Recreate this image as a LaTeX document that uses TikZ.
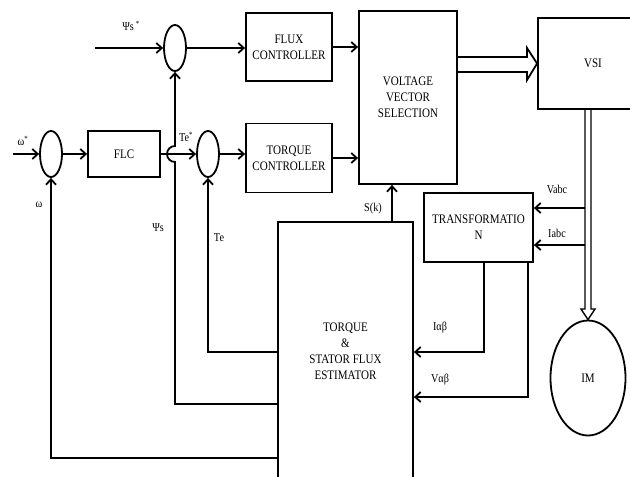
\documentclass[tikz,border=0pt]{standalone}
\usepackage{fontspec}
\setmainfont[FakeStretch=0.85]{Liberation Serif}
\usetikzlibrary{arrows.meta,shapes.geometric}
\begin{document}
\begin{tikzpicture}[x=1pt,y=-1pt, line width=1.8pt,
  box/.style={draw, rectangle, inner sep=0pt, align=center, font=\fontsize{13}{16}\selectfont},
  sumj/.style={draw, ellipse, inner sep=0pt, minimum width=22pt, minimum height=46pt},
  arr/.style={-{Straight Barb[length=5.5pt,width=10pt]}},
  lbl/.style={font=\fontsize{12}{14}\selectfont, inner sep=0pt}]
\useasboundingbox (0,0) rectangle (630,477);
\clip (0,0) rectangle (630,477);

% summing junctions
\node[sumj] (c1) at (175,48) {};
\node[sumj] (c2) at (51,154) {};
\node[sumj] (c3) at (208,154) {};

% blocks
\node[box, minimum width=72pt, minimum height=46pt] (flc) at (124,154) {FLC};
\node[box, minimum width=86pt, minimum height=68pt] (flux) at (289,47) {FLUX\\CONTROLLER};
\node[box, minimum width=86pt, minimum height=69pt] (tq) at (289,158) {TORQUE\\CONTROLLER};
\node[box, minimum width=98pt, minimum height=173pt] (vvs) at (408,97.5) {VOLTAGE\\VECTOR\\SELECTION};
\node[box, minimum width=110pt, minimum height=91pt] (vsi) at (593,63.5) {VSI};
\node[box, minimum width=109pt, minimum height=69pt] (tr) at (478.5,227.5) {TRANSFORMATIO\\N};
\node[box, minimum width=135pt, minimum height=258pt] (est) at (345.5,351) {TORQUE\\\&\\STATOR FLUX\\ESTIMATOR};
\node[draw, ellipse, minimum width=75pt, minimum height=115pt, inner sep=0pt, font=\fontsize{13}{16}\selectfont] (im) at (588,378) {IM};

% forward path
\coordinate (psin) at (95,48);
\draw[arr] (psin) -- (c1.west);
\draw[arr] (c1.east) -- (flux.west |- c1.east);
\draw[arr] (flux.east) -- (vvs.west |- flux.east);
\draw[arr] (tq.east) -- (vvs.west |- tq.east);
\coordinate (win) at (13,154);
\draw[arr] (win) -- (c2.west);
\draw[arr] (c2.east) -- (flc.west);
\draw[arr] (flc.east) -- (c3.west);
\draw[arr] (c3.east) -- (tq.west |- c3.east);

% feedback paths
\coordinate (te) at (208,352);
\draw[arr] (est.west |- te) -- (te) -- (c3.south);
\coordinate (ps) at (175,404);
\coordinate (hop) at (175,162);
\draw[arr] (est.west |- ps) -- (ps) -- (hop) arc[start angle=270,end angle=90,radius=8pt] -- (c1.south);
\coordinate (om) at (51,458);
\draw[arr] (est.west |- om) -- (om) -- (c2.south);
\coordinate (sk) at (392,222);
\draw[arr] (sk) -- (sk |- vvs.south);

% hollow arrow VVS -> VSI
\draw[line join=miter] (457,57) -- (527,57) -- (527,48) -- (vsi.west) -- (527,80) -- (527,72) -- (457,72);
% double arrow VSI -> IM
\draw[line width=1.4pt, line join=miter] (585,109) -- (585,309) -- (581,309) -- (im.north) -- (595,309) -- (591,309) -- (591,109);

% measurements
\coordinate (va) at (585,208);
\draw[arr] (va) -- (tr.east |- va);
\coordinate (ia) at (585,245);
\draw[arr] (ia) -- (tr.east |- ia);
\coordinate (ial) at (484,352);
\draw[arr] (tr.south -| ial) -- (ial) -- (est.east |- ial);
\coordinate (val) at (528,397);
\draw[arr] (tr.south -| val) -- (val) -- (est.east |- val);

% labels
\node[lbl] (lpsr) at (131,26) {Ψs\,\textsuperscript{*}};
\node[lbl] (lwr) at (23,141) {ω\textsuperscript{*}};
\node[lbl] (lw) at (39,205) {ω};
\node[lbl] (lter) at (186,137) {Te\textsuperscript{*}};
\node[lbl] (lps) at (158,228) {Ψs};
\node[lbl] (lte) at (219,238) {Te};
\node[lbl] (lsk) at (373,209) {S(k)};
\node[lbl] (lva) at (557,189) {Vabc};
\node[lbl] (lia) at (557,233) {Iabc};
\node[lbl] (lial) at (440,328) {Iαβ};
\node[lbl] (lval) at (440,380) {Vαβ};
\end{tikzpicture}
\end{document}
